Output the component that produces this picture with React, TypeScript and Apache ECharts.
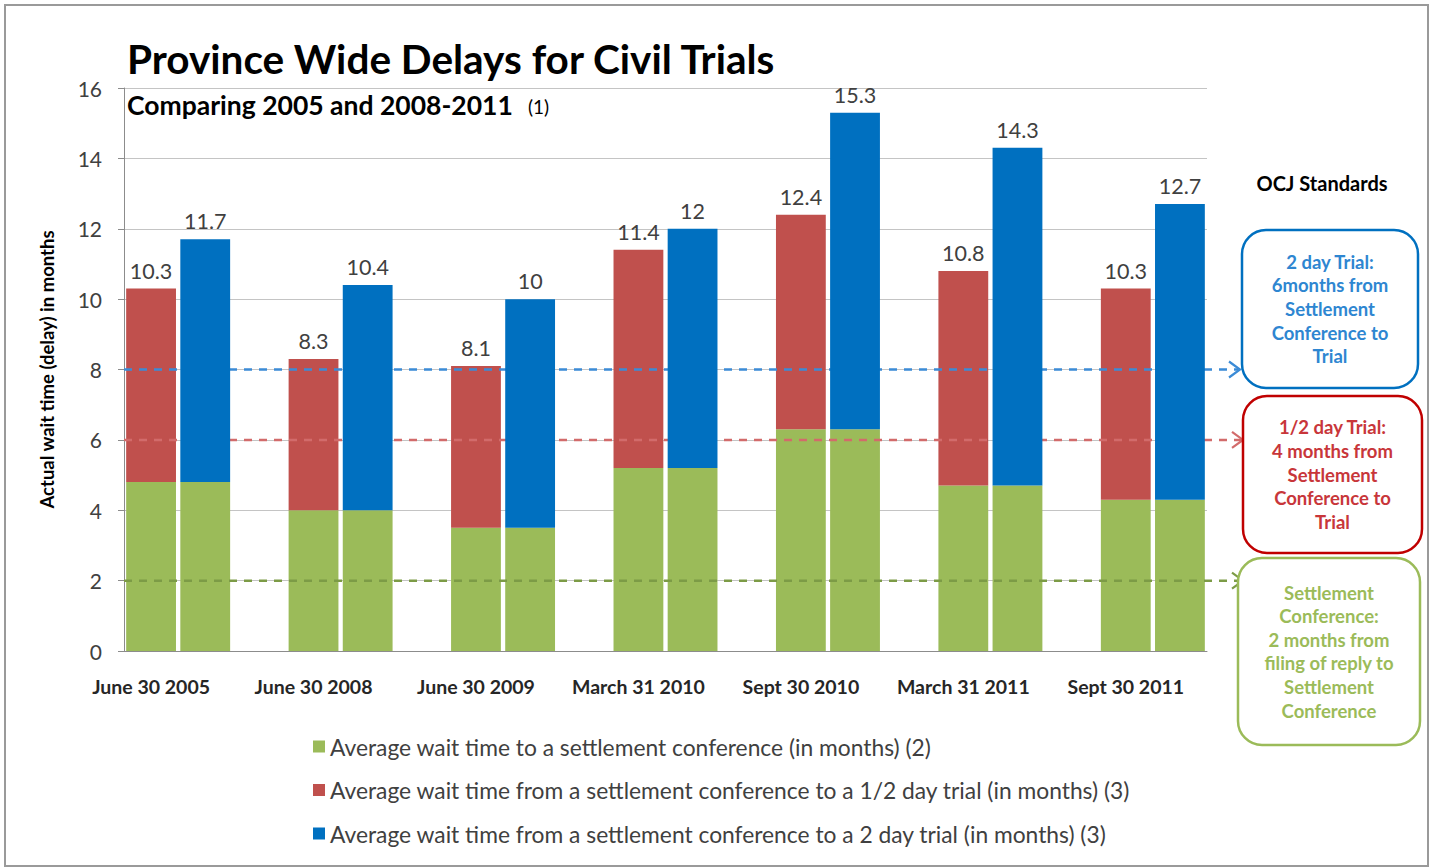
import React, { useEffect, useRef } from "react";
import * as echarts from "echarts";

const categories = ["June 30 2005", "June 30 2008", "June 30 2009", "March 31 2010", "Sept 30 2010", "March 31 2011", "Sept 30 2011"];
const settlementWait = [4.8, 4.0, 3.5, 5.2, 6.3, 4.7, 4.3];
const halfDayTrialTotal = [10.3, 8.3, 8.1, 11.4, 12.4, 10.8, 10.3];
const twoDayTrialTotal = [11.7, 10.4, 10, 12, 15.3, 14.3, 12.7];
const seriesNames = [
  "Average wait time to a settlement conference (in months) (2)",
  "Average wait time from a settlement conference to a 1/2 day trial (in months) (3)",
  "Average wait time from a settlement conference to a 2 day trial (in months) (3)",
];
const standardValues = [8, 6, 2];
const standardColors = ["#3B8BD6", "#D26B6B", "#7C9B46"];
const boxTexts = [
  ["2 day Trial:", "6months from", "Settlement", "Conference to", "Trial"],
  ["1/2 day Trial:", "4 months from", "Settlement", "Conference to", "Trial"],
  ["Settlement", "Conference:", "2 months from", "filing of reply to", "Settlement", "Conference"],
];

const GREEN = "#9BBB59";
const RED = "#C0504D";
const BLUE = "#0070C0";
const FONT = "Lato, 'Open Sans', sans-serif";

export default function App() {
  const ref = useRef<HTMLDivElement>(null);
  useEffect(() => {
    if (!ref.current) return;
    const chart = echarts.init(ref.current, undefined, { renderer: "svg" });

    const slots: string[] = [];
    const greenData: (number | null)[] = [];
    const redData: (number | null)[] = [];
    const blueData: (number | null)[] = [];
    categories.forEach((c, i) => {
      slots.push(c, c + " (2 day)");
      greenData.push(settlementWait[i], settlementWait[i]);
      redData.push(+(halfDayTrialTotal[i] - settlementWait[i]).toFixed(2), null);
      blueData.push(null, +(twoDayTrialTotal[i] - settlementWait[i]).toFixed(2));
      if (i < categories.length - 1) {
        slots.push("gap " + i);
        greenData.push(null);
        redData.push(null);
        blueData.push(null);
      }
    });

    const gridLeft = 124, gridTop = 88, gridRight = 225, gridBottom = 216;

    const dataLabel = (totals: number[]) => ({
      show: true,
      position: "top",
      distance: 7,
      fontSize: 21.5,
      color: "#404040",
      fontFamily: FONT,
      formatter: (p: any) => String(totals[Math.floor(p.dataIndex / 3)]),
    });

    chart.setOption({
      animation: false,
      backgroundColor: "#ffffff",
      textStyle: { fontFamily: FONT },
      title: [
        {
          text: "Province Wide Delays for Civil Trials",
          left: 122,
          top: 33,
          textStyle: { fontSize: 40.5, fontWeight: "bold", color: "#000", fontFamily: FONT },
        },
        {
          text: "{b|Comparing 2005 and 2008-2011}  {n|(1)}",
          left: 122,
          top: 86,
          textStyle: {
            fontWeight: "normal",
            rich: {
              b: { fontSize: 26.5, fontWeight: "bold", color: "#000", fontFamily: FONT },
              n: { fontSize: 19, fontWeight: "normal", color: "#000", fontFamily: FONT, padding: [4, 0, 0, 6] },
            },
          },
        },
      ],
      grid: { left: gridLeft, top: gridTop, right: gridRight, bottom: gridBottom, containLabel: false },
      legend: {
        orient: "vertical",
        left: 308,
        top: 730,
        itemWidth: 12,
        itemHeight: 12,
        itemGap: 20.5,
        icon: "rect",
        textStyle: { fontSize: 22.8, color: "#404040", fontFamily: FONT, padding: [0, 0, 0, 0] },
        data: seriesNames,
      },
      xAxis: {
        type: "category",
        data: slots,
        boundaryGap: true,
        axisLine: { lineStyle: { color: "#8C8C8C", width: 1 } },
        axisTick: { interval: 0, length: 6, lineStyle: { color: "#8C8C8C" } },
        axisLabel: {
          interval: 0,
          margin: 25,
          fontSize: 19.5,
          fontWeight: "bold",
          color: "#262626",
          fontFamily: FONT,
          formatter: (v: string, idx: number) => (idx % 3 === 0 ? v : ""),
        },
      },
      yAxis: {
        type: "value",
        min: 0,
        max: 16,
        interval: 2,
        name: "Actual wait time (delay) in months",
        nameLocation: "middle",
        nameGap: 68,
        nameRotate: 90,
        nameTextStyle: { fontSize: 18.5, fontWeight: "bold", color: "#000", fontFamily: FONT },
        axisLine: { show: true, lineStyle: { color: "#8C8C8C" } },
        axisTick: { show: true, length: 6, lineStyle: { color: "#8C8C8C" } },
        axisLabel: { fontSize: 21, color: "#404040", margin: 22, fontFamily: FONT },
        splitLine: { lineStyle: { color: "#C4C4C4", width: 1 } },
      },
      series: [
        {
          name: seriesNames[0],
          type: "bar",
          stack: "total",
          barCategoryGap: "8%",
          itemStyle: { color: GREEN },
          data: greenData,
          z: 2,
        },
        {
          name: seriesNames[1],
          type: "bar",
          stack: "total",
          barCategoryGap: "8%",
          itemStyle: { color: RED },
          data: redData,
          z: 2,
          label: dataLabel(halfDayTrialTotal),
        },
        {
          name: seriesNames[2],
          type: "bar",
          stack: "total",
          barCategoryGap: "8%",
          itemStyle: { color: BLUE },
          data: blueData,
          z: 5,
          label: dataLabel(twoDayTrialTotal),
        },
      ],
    });

    const tips = [1240, 1243, 1243];
    const boxes = [
      { x: 1242, y: 230, w: 176, h: 158, stroke: BLUE, text: "#2E86D1" },
      { x: 1243, y: 396, w: 179, h: 157, stroke: "#C00000", text: "#C8363A" },
      { x: 1238, y: 558, w: 182, h: 187, stroke: GREEN, text: GREEN },
    ];
    const graphics: any[] = [
      {
        type: "rect",
        shape: { x: 5, y: 5, width: 1423, height: 861 },
        style: { fill: "none", stroke: "#9A9A9A", lineWidth: 2 },
        z: 0,
        silent: true,
      },
      {
        type: "text",
        x: 1322,
        y: 183,
        style: { text: "OCJ Standards", fontSize: 20, fontWeight: "bold", fill: "#000", fontFamily: FONT, align: "center", verticalAlign: "middle" },
        z: 3,
      },
    ];
    standardValues.forEach((v, i) => {
      const y = chart.convertToPixel({ yAxisIndex: 0 }, v) as number;
      graphics.push({
        type: "line",
        shape: { x1: gridLeft, y1: y, x2: tips[i] - 2, y2: y },
        style: { stroke: standardColors[i], lineWidth: 2.5, lineDash: [8, 7] },
        z: 3,
        silent: true,
      });
      graphics.push({
        type: "polyline",
        shape: { points: [[tips[i] - 11, y - 8], [tips[i], y], [tips[i] - 11, y + 8]] },
        style: { stroke: standardColors[i], lineWidth: 2.2, fill: "none" },
        z: 3,
        silent: true,
      });
    });
    boxes.forEach((b, i) => {
      graphics.push({
        type: "rect",
        shape: { x: b.x, y: b.y, width: b.w, height: b.h, r: 24 },
        style: { fill: "#fff", stroke: b.stroke, lineWidth: 2.5 },
        z: 3,
      });
      const lines = boxTexts[i];
      const lh = 23.6;
      const cy = b.y + b.h / 2;
      lines.forEach((t, j) => {
        graphics.push({
          type: "text",
          x: b.x + b.w / 2,
          y: cy + (j - (lines.length - 1) / 2) * lh,
          style: { text: t, fontSize: 18.5, fontWeight: "bold", fill: b.text, fontFamily: FONT, align: "center", verticalAlign: "middle" },
          z: 4,
        });
      });
    });
    chart.setOption({ graphic: graphics });

    return () => chart.dispose();
  }, []);
  return <div ref={ref} style={{ position: "absolute", left: 0, top: 0, width: 1432, height: 867 }} />;
}
